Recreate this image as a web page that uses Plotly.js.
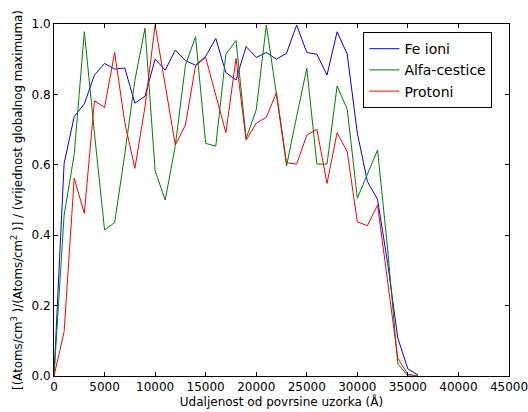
<!DOCTYPE html>
<html><head><meta charset="utf-8">
<script src="https://cdn.plot.ly/plotly-3.0.1.min.js"></script>
<style>body{margin:0;background:#fff}#chart{width:528px;height:412px}</style>
</head><body><div id="chart"></div>
<script>
const depth = [0,1000,2000,3000,4000,5000,6000,7000,8000,9000,10000,11000,12000,13000,14000,15000,16000,17000,18000,19000,20000,21000,22000,23000,24000,25000,26000,27000,28000,29000,30000,31000,32000,33000,34000,35000,36000];
const feIoni = [0,0.604,0.737,0.773,0.855,0.888,0.872,0.875,0.775,0.795,0.90,0.869,0.926,0.896,0.883,0.908,0.959,0.862,0.841,0.936,0.905,0.919,0.90,0.917,0.997,0.919,0.914,0.855,0.978,0.914,0.69,0.552,0.502,0.32,0.108,0.02,0.003];
const alfaCestice = [0,0.457,0.63,0.978,0.69,0.415,0.436,0.63,0.84,0.988,0.583,0.50,0.655,0.883,0.964,0.661,0.653,0.914,0.953,0.675,0.756,0.997,0.80,0.597,0.737,0.874,0.602,0.602,0.824,0.758,0.505,0.571,0.642,0.36,0.035,0,0];
const protoni = [0,0.126,0.562,0.462,0.782,0.763,0.919,0.72,0.59,0.765,0.997,0.827,0.656,0.713,0.881,0.905,0.798,0.691,0.902,0.670,0.718,0.735,0.805,0.606,0.602,0.684,0.701,0.547,0.691,0.637,0.438,0.427,0.486,0.268,0.05,0.005,0];
const names = ["Fe ioni","Alfa-cestice","Protoni"];
const colors = ["#0000ff","#008000","#ff0000"];
const series = [feIoni, alfaCestice, protoni];
const xTicks = [0,5000,10000,15000,20000,25000,30000,35000,40000,45000];
const yTicks = [0,0.2,0.4,0.6,0.8,1.0];

const traces = series.map((s,i)=>({
  x: depth, y: s, name: names[i], type:'scatter', mode:'lines',
  line:{color:colors[i], width:1}
}));
const axisCommon = {
  showgrid:false, zeroline:false, showline:true, linecolor:'#000', linewidth:1,
  mirror:'ticks', ticks:'inside', ticklen:4, tickcolor:'#000',
  ticklabeloverflow:'allow',
  tickfont:{family:'DejaVu Sans', size:12, color:'#000'}
};
const layout = {
  width:528, height:412,
  margin:{l:54, r:19, t:24, b:36},
  paper_bgcolor:'#fff', plot_bgcolor:'#fff',
  font:{family:'DejaVu Sans', color:'#000'},
  showlegend:true,
  legend:{x:0.68, y:0.977, xanchor:'left', yanchor:'top', bordercolor:'#000', borderwidth:1,
    bgcolor:'#fff', font:{family:'DejaVu Sans', size:14, color:'#000'}, tracegroupgap:0, itemwidth:30},
  xaxis:Object.assign({}, axisCommon, {range:[0,45000], tickvals:xTicks, ticktext:xTicks.map(String),
    title:{text:'Udaljenost od povrsine uzorka (Å)', font:{family:'DejaVu Sans', size:12}, standoff:4}}),
  yaxis:Object.assign({}, axisCommon, {range:[0,1.0], tickvals:yTicks, ticktext:yTicks.map(v=>v.toFixed(1)),
    title:{text:'[(Atoms/cm<sup>3</sup> )/(Atoms/cm<sup>2</sup> )] / (vrijednost globalnog maximuma)', font:{family:'DejaVu Sans', size:11.8}, standoff:6}})
};
Plotly.newPlot('chart', traces, layout, {staticPlot:true, displayModeBar:false});
</script></body></html>
